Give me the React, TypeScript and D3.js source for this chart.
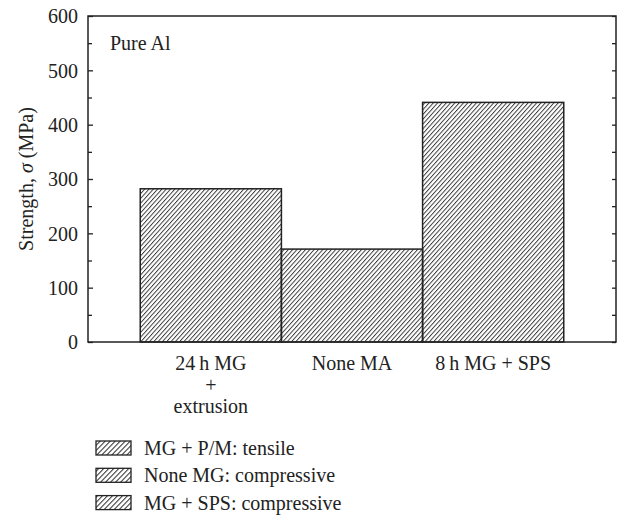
import * as React from "react";
import * as d3 from "d3";

const categories = ["mgExtrusion", "noneMA", "mgSPS"];
const categoryLines = [["24\u2009h MG", "+", "extrusion"], ["None MA"], ["8\u2009h MG + SPS"]];
const strengths = [282, 171, 441];
const legendLabels = ["MG + P/M: tensile", "None MG: compressive", "MG + SPS: compressive"];
const yMajorTicks = [0, 100, 200, 300, 400, 500, 600];
const yMinorTicks = [50, 150, 250, 350, 450, 550];

const width = 621;
const height = 516;
const plot = { left: 88, right: 616, top: 16, bottom: 342 };
const font = "Liberation Serif, Times New Roman, serif";
const ink = "#222";

const App = () => {
  const leftAxisRef = React.useRef<SVGGElement>(null);
  const rightAxisRef = React.useRef<SVGGElement>(null);

  const x = d3
    .scaleBand<string>()
    .domain(categories)
    .range([plot.left, plot.right])
    .paddingInner(0)
    .paddingOuter(0.37);
  const y = d3.scaleLinear().domain([0, 600]).range([plot.bottom, plot.top]);

  React.useEffect(() => {
    const left = d3.select(leftAxisRef.current);
    left.selectAll("*").remove();
    // major ticks with labels, pointing inward
    left
      .append("g")
      .call(d3.axisLeft(y).tickValues(yMajorTicks).tickSize(-5).tickPadding(10).tickFormat(d3.format("d")))
      .call((g) => g.select(".domain").remove())
      .call((g) =>
        g.selectAll("text").attr("font-family", font).attr("font-size", 20).attr("fill", ink).attr("dy", "0.34em"),
      )
      .call((g) => g.selectAll("line").attr("stroke", ink).attr("stroke-width", 1.3));
    left
      .append("g")
      .call(d3.axisLeft(y).tickValues(yMinorTicks).tickSize(-4).tickFormat(() => ""))
      .call((g) => g.select(".domain").remove())
      .call((g) => g.selectAll("line").attr("stroke", ink).attr("stroke-width", 1.3));

    const right = d3.select(rightAxisRef.current);
    right.selectAll("*").remove();
    right
      .append("g")
      .call(d3.axisRight(y).tickValues([...yMajorTicks, ...yMinorTicks]).tickSize(-4).tickFormat(() => ""))
      .call((g) => g.select(".domain").remove())
      .call((g) => g.selectAll("line").attr("stroke", ink).attr("stroke-width", 1.3));
  }, []);

  return (
    <svg
      width={width}
      height={height}
      viewBox={`0 0 ${width} ${height}`}
      style={{ position: "fixed", left: 0, top: 0, background: "#fff", display: "block" }}
    >
      <defs>
        <pattern id="hatchBar" patternUnits="userSpaceOnUse" width="3.2" height="10" patternTransform="rotate(42)">
          <line x1="0.5" y1="0" x2="0.5" y2="10" stroke="#2a2a2a" strokeWidth="0.9" />
        </pattern>
        <pattern id="hatchLegend" patternUnits="userSpaceOnUse" width="3.6" height="10" patternTransform="rotate(44)">
          <line x1="0.5" y1="0" x2="0.5" y2="10" stroke="#2a2a2a" strokeWidth="1" />
        </pattern>
      </defs>

      {/* bars */}
      {categories.map((c, i) => (
        <rect
          key={c}
          x={x(c)}
          y={y(strengths[i])}
          width={x.bandwidth()}
          height={y(0) - y(strengths[i])}
          fill="url(#hatchBar)"
          stroke={ink}
          strokeWidth="1.5"
        />
      ))}

      {/* frame */}
      <rect
        x={plot.left}
        y={plot.top}
        width={plot.right - plot.left}
        height={plot.bottom - plot.top}
        fill="none"
        stroke={ink}
        strokeWidth="1.5"
      />

      <g ref={leftAxisRef} transform={`translate(${plot.left},0)`} />
      <g ref={rightAxisRef} transform={`translate(${plot.right},0)`} />

      <text x={110} y={50} fontFamily={font} fontSize="20" fill={ink}>
        Pure Al
      </text>

      <text
        transform={`translate(33, ${(plot.top + plot.bottom) / 2}) rotate(-90)`}
        textAnchor="middle"
        fontFamily={font}
        fontSize="20"
        fill={ink}
      >
        Strength, <tspan fontStyle="italic">σ</tspan> (MPa)
      </text>

      {/* category labels */}
      {categories.map((c, i) => (
        <text
          key={c}
          x={(x(c) ?? 0) + x.bandwidth() / 2}
          y={370}
          textAnchor="middle"
          fontFamily={font}
          fontSize="20"
          fill={ink}
        >
          {categoryLines[i].map((line, j) => (
            <tspan key={j} x={(x(c) ?? 0) + x.bandwidth() / 2} dy={j === 0 ? 0 : 21.5}>
              {line}
            </tspan>
          ))}
        </text>
      ))}

      {/* legend */}
      {legendLabels.map((label, i) => {
        const base = 455 + i * 27.3;
        return (
          <g key={label}>
            <rect x={96} y={base - 14} width={35} height={14} fill="url(#hatchLegend)" stroke={ink} strokeWidth="1.3" />
            <text x={144} y={base} fontFamily={font} fontSize="20" fill={ink}>
              {label}
            </text>
          </g>
        );
      })}
    </svg>
  );
};

export default App;
